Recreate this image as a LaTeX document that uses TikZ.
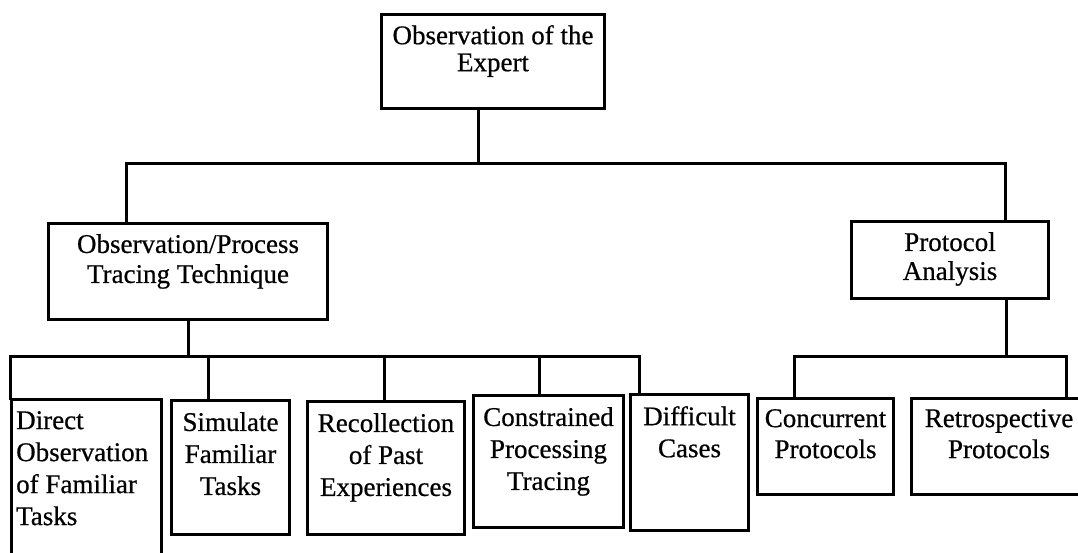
\documentclass[tikz,border=0pt]{standalone}
\usepackage{fontspec}
\setmainfont{Liberation Serif}[UprightFeatures={FakeBold=0.6}]
\begin{document}
\begin{tikzpicture}[x=1pt,y=-1pt,
  box/.style={draw=black, line width=3pt, rectangle, inner sep=0pt, anchor=north west},
  lbl/.style={inner sep=0pt, align=center, anchor=north, font=\fontsize{27}{#1}\selectfont},
  lbl/.default=32,
  wire/.style={draw=black, line width=3pt, line cap=rect}]
\useasboundingbox (0,0) rectangle (1078,553);
\clip (0,0) rectangle (1078,553);

% boxes
\node[box, minimum width=223pt, minimum height=94pt]  (top)    at (380,13)  {};
\node[box, minimum width=279pt, minimum height=96pt]  (obs)    at (47,222)  {};
\node[box, minimum width=197pt, minimum height=77pt]  (proto)  at (850,220) {};
\node[box, minimum width=150pt, minimum height=185pt] (direct) at (10,398)  {};
\node[box, minimum width=118pt, minimum height=134pt] (simul)  at (170,399) {};
\node[box, minimum width=157pt, minimum height=133pt] (recoll) at (306,400) {};
\node[box, minimum width=150pt, minimum height=132pt] (constr) at (472,394) {};
\node[box, minimum width=118pt, minimum height=136pt] (diffic) at (629,393) {};
\node[box, minimum width=136pt, minimum height=96pt]  (concur) at (756,397) {};
\node[box, minimum width=175pt, minimum height=96pt]  (retro)  at (910,397) {};

% labels
\node[lbl=27] (topT)    at ([yshift=-12pt]top.north)    {Observation of the\\Expert};
\node[lbl=30] (obsT)    at ([yshift=-12pt]obs.north)    {Observation/Process\\Tracing Technique};
\node[lbl=29] (protoT)  at ([yshift=-12pt]proto.north)  {Protocol\\Analysis};
\node[lbl, align=left, anchor=north west] (directT) at ([xshift=6pt,yshift=-13pt]direct.north west)
  {Direct\\Observation\\of Familiar\\Tasks};
\node[lbl] (simulT)  at ([yshift=-13pt]simul.north)  {Simulate\\Familiar\\Tasks};
\node[lbl] (recollT) at ([yshift=-13pt]recoll.north) {Recollection\\of Past\\Experiences};
\node[lbl] (constrT) at ([yshift=-13pt]constr.north) {Constrained\\Processing\\Tracing};
\node[lbl] (difficT) at ([yshift=-13pt]diffic.north) {Difficult\\Cases};
\node[lbl=31] (concurT) at ([yshift=-12pt]concur.north) {Concurrent\\Protocols};
\node[lbl=31] (retroT)  at ([yshift=-12pt]retro.north)  {Retrospective\\Protocols};

% junction points on the three buses
\coordinate (j0) at (478,164);
\coordinate (j1) at (188,356);
\coordinate (j2) at (1006,356);
% drop points
\coordinate (dObs)    at (126,0);
\coordinate (dProto)  at (1005,0);
\coordinate (dDirect) at (10,0);
\coordinate (dSimul)  at (208,0);
\coordinate (dRecoll) at (384,0);
\coordinate (dConstr) at (539,0);
\coordinate (dDiffic) at (639,0);
\coordinate (dConcur) at (794,0);
\coordinate (dRetro)  at (1066,0);

% top level
\draw[wire] (top.south -| j0) -- (j0);
\draw[wire] (j0) -| (obs.north -| dObs);
\draw[wire] (j0) -| (proto.north -| dProto);

% observation / process tracing branch
\draw[wire] (obs.south -| j1) -- (j1);
\draw[wire] (j1) -| (direct.north -| dDirect);
\draw[wire] (j1) -| (simul.north -| dSimul);
\draw[wire] (j1) -| (recoll.north -| dRecoll);
\draw[wire] (j1) -| (constr.north -| dConstr);
\draw[wire] (j1) -| (diffic.north -| dDiffic);

% protocol analysis branch
\draw[wire] (proto.south -| j2) -- (j2);
\draw[wire] (j2) -| (concur.north -| dConcur);
\draw[wire] (j2) -| (retro.north -| dRetro);
\end{tikzpicture}
\end{document}
